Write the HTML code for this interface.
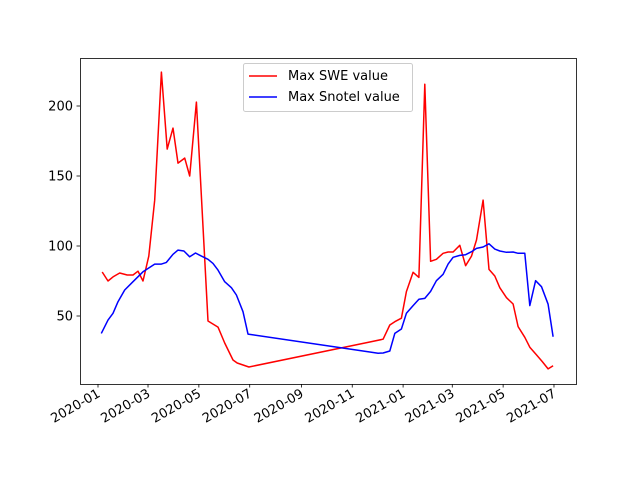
<!DOCTYPE html>
<html><head><meta charset="utf-8"><style>
body{margin:0;background:#fff}
svg text{font-family:"DejaVu Sans","Liberation Sans",sans-serif;font-size:13px;fill:#000}
</style></head><body>
<svg id="chart" width="640" height="480" xmlns="http://www.w3.org/2000/svg">
<rect width="640" height="480" fill="#fff"/>
<g id="plot"></g>
<rect x="80.5" y="58.5" width="496" height="326" fill="none" stroke="#000" stroke-width="0.8"/>
<g id="xt"></g><g id="yt"></g>
<g>
<rect x="243.5" y="63.5" width="169" height="48" rx="2" fill="#fff" fill-opacity="0.8" stroke="#ccc"/>
<line x1="249" y1="76" x2="277" y2="76" stroke="red" stroke-width="1.5"/>
<text x="288" y="80" style="font-size:13px">Max SWE value</text>
<line x1="249" y1="97" x2="277" y2="97" stroke="blue" stroke-width="1.5"/>
<text x="288" y="101" style="font-size:13px">Max Snotel value</text>
</g>
</svg>
<script>
const sweDays=[5,12,18,26,35,42,48,54,61,68,76,83,90,96,104,110,118,132,144,152,162,167,181,326,342,350,356,364,370,378,385,392,399,406,414,420,426,434,441,448,454,462,469,476,482,490,498,504,512,518,526,533,540,546];
const sweVals=[81.4,75,77.9,80.7,79.3,79.3,82,75,92.8,132.8,224.2,169.2,184.2,159.2,162.8,150,202.8,46.4,42.1,30.7,18.6,16.4,13.6,31.4,33.4,43.6,45.9,48.4,67.4,81.2,77.6,215.6,89.1,90.5,94.8,95.7,95.7,100.5,85.9,92.8,104.3,132.8,83.3,78.6,70.2,63.1,58.6,42.4,34.8,27.7,22.2,17.4,12.2,14.5];
const snoDays=[4,12,18,24,32,42,54,68,76,82,90,96,103,110,117,124,132,138,144,152,160,166,174,180,326,336,342,350,356,364,370,378,385,392,399,406,414,420,426,434,441,448,454,462,469,476,482,490,498,504,512,518,525,532,540,546];
const snoVals=[37.6,47.1,51.9,60.2,68.6,74.5,81.6,87.1,87.1,88.3,94.1,97.1,96.4,92.3,95,92.8,90.5,87.6,82.8,74.5,70.2,65,53.1,37.1,24.3,23.4,23.6,25,37.6,40.7,51.9,57.4,61.9,62.6,67.6,75.2,79.8,87.1,91.9,93.3,93.8,95.9,98.3,99.3,101.6,97.8,96.4,95.5,95.7,94.8,94.8,57.4,75.2,70.9,58.4,35.2];
const xTickDays=[0,60,121,182,244,305,366,425,486,547];
const xTickLabels=["2020-01","2020-03","2020-05","2020-07","2020-09","2020-11","2021-01","2021-03","2021-05","2021-07"];
const yTickVals=[50,100,150,200];
const NS="http://www.w3.org/2000/svg";
const X=d=>98+d*0.8336, Y=v=>316-(v-50)*1.4;
function mk(t,a,p){const e=document.createElementNS(NS,t);for(const k in a)e.setAttribute(k,a[k]);p.appendChild(e);return e;}
const plot=document.getElementById('plot');
function line(ds,vs,c,name){
 const p=mk('polyline',{points:ds.map((d,i)=>X(d).toFixed(1)+','+Y(vs[i]).toFixed(1)).join(' '),fill:'none',stroke:c,'stroke-width':1.5,'stroke-linejoin':'round'},plot);
 
 
}
line(sweDays,sweVals,'red','swe-line');
line(snoDays,snoVals,'blue','snotel-line');
const xt=document.getElementById('xt');
xTickDays.forEach((d,i)=>{const x=X(d);
 mk('line',{x1:x,y1:384,x2:x,y2:387.5,stroke:'#000','stroke-width':0.8},xt);
 const t=mk('text',{x:x+3,y:396,'text-anchor':'end',transform:`rotate(-30 ${x+3} 396)`},xt);
 
 
 t.textContent=xTickLabels[i];});
const yt=document.getElementById('yt');
yTickVals.forEach(v=>{const y=Y(v);
 mk('line',{x1:76.5,y1:y,x2:80,y2:y,stroke:'#000','stroke-width':0.8},yt);
 const t=mk('text',{x:73,y:y+4.5,'text-anchor':'end'},yt);
 
 
 t.textContent=v;});
</script>
</body></html>
